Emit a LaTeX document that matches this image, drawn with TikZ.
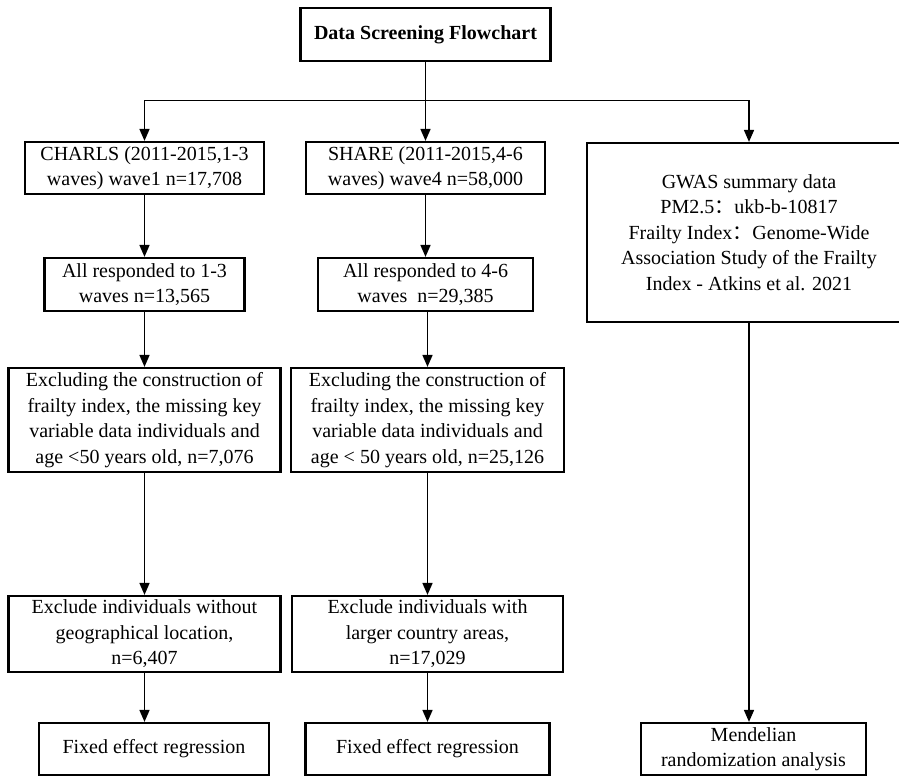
\documentclass[tikz,border=0pt]{standalone}
\usepackage{fontspec}
\setmainfont{Liberation Serif}
\newfontfamily\cjk{Noto Sans CJK SC}
\usetikzlibrary{arrows.meta}

\begin{document}
\begin{tikzpicture}[x=1pt,y=-1pt,
  box/.style={draw=black, line width=2.2pt, align=center, inner sep=0pt, minimum height=52pt, font=\fontsize{20}{25.5}\selectfont},
  arr/.style={line width=1.6pt, -{Triangle[length=12pt,width=10pt]}}]
\path[use as bounding box, clip] (0,0) rectangle (899,776);
\node[box, minimum width=250pt, minimum height=53pt, font=\fontsize{20}{25.5}\selectfont\bfseries] (title) at (425.5,34.5) {Data Screening Flowchart};
\node[box, minimum width=239pt] (charls) at (144.5,168) {CHARLS (2011-2015,1-3\\waves) wave1 n=17,708};
\node[box, minimum width=239pt] (share) at (425.5,168) {SHARE (2011-2015,4-6\\waves) wave4 n=58,000};
\node[box, minimum width=324pt, minimum height=179pt] (gwas) at (749,232.5) {GWAS summary data\\PM2.5{\cjk ：}ukb-b-10817\\Frailty Index{\cjk ：}Genome-Wide\\Association Study of the Frailty\\Index - Atkins et al. 2021};
\node[box, minimum width=200pt, minimum height=53pt] (resp1) at (144.5,284.5) {All responded to 1-3\\waves n=13,565};
\node[box, minimum width=215pt, minimum height=53pt] (resp2) at (425.5,284.5) {All responded to 4-6\\waves~ n=29,385};
\node[box, minimum width=272pt, minimum height=104pt] (excl1) at (144.5,420) {Excluding the construction of\\frailty index, the missing key\\variable data individuals and\\age <50 years old, n=7,076};
\node[box, minimum width=273pt, minimum height=104pt] (excl2) at (427.5,420) {Excluding the construction of\\frailty index, the missing key\\variable data individuals and\\age < 50 years old, n=25,126};
\node[box, minimum width=272pt, minimum height=76pt] (geo1) at (144.5,634) {Exclude individuals without\\geographical location,\\n=6,407};
\node[box, minimum width=271pt, minimum height=76pt] (area2) at (427.5,634) {Exclude individuals with\\larger country areas,\\n=17,029};
\node[box, minimum width=230pt] (fix1) at (154,749) {Fixed effect regression};
\node[box, minimum width=244pt] (fix2) at (427.5,749) {Fixed effect regression};
\node[box, minimum width=225pt] (mr) at (753.5,749) {Mendelian\\randomization analysis};
\coordinate (split) at (425.5,100.5);
\draw[line width=1.6pt] (title) -- (split);
\draw[arr] (split) -| (charls);
\draw[arr] (split) -- (share);
\draw[arr] (split) -| (gwas);
\draw[arr] (charls) -- (resp1);
\draw[arr] (share) -- (resp2);
\draw[arr] (resp1) -- (excl1);
\draw[arr] (excl2 |- resp2.south) -- (excl2.north);
\draw[arr] (excl1) -- (geo1);
\draw[arr] (excl2) -- (area2);
\draw[arr] (geo1) -- (geo1 |- fix1.north);
\draw[arr] (area2) -- (fix2);
\draw[arr] (gwas.south) -- (gwas.south |- mr.north);
\end{tikzpicture}
\end{document}
